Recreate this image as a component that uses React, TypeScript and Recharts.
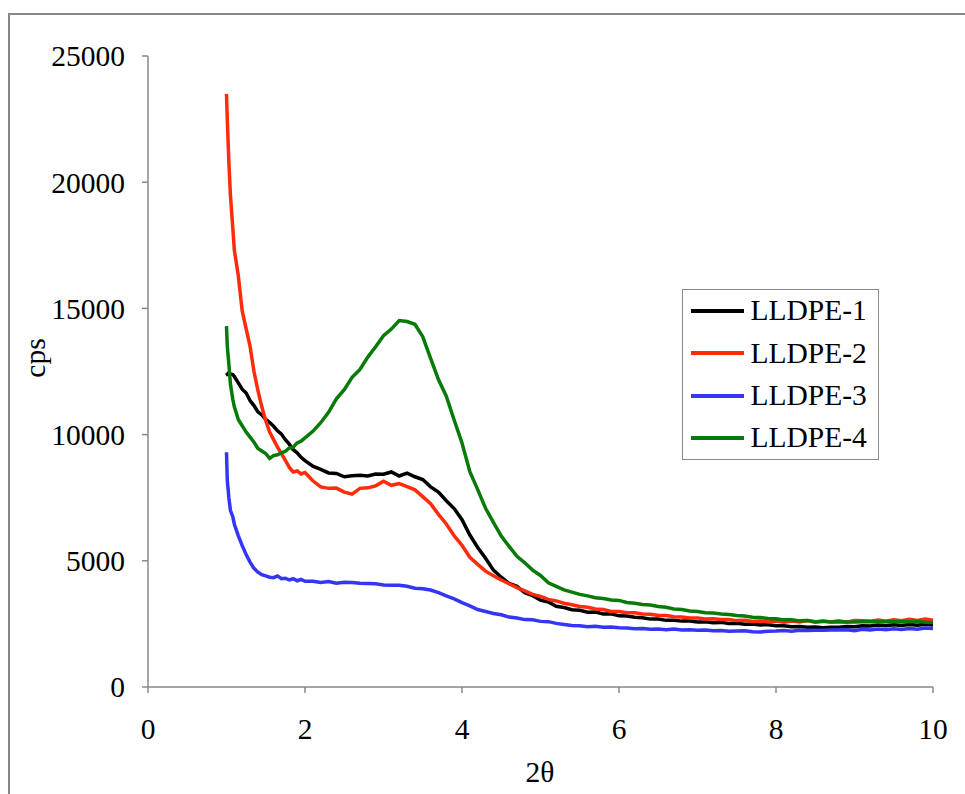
import { LineChart, Line, XAxis, YAxis } from "recharts"

// 2θ positions (finer steps where the curves fall steeply)
const xs = [
  1.0, 1.01, 1.03, 1.05, 1.08, 1.1, 1.15, 1.2, 1.25, 1.3, 1.35, 1.4, 1.45, 1.5, 1.55, 1.6, 1.65, 1.7, 1.75, 1.8, 1.85, 1.9, 1.95, 2.0,
  2.1, 2.2, 2.3, 2.4, 2.5, 2.6, 2.7, 2.8, 2.9, 3.0,
  3.1, 3.2, 3.3, 3.4, 3.5, 3.6, 3.7, 3.8, 3.9, 4.0,
  4.1, 4.2, 4.3, 4.4, 4.5, 4.6, 4.7, 4.8, 4.9, 5.0,
  5.1, 5.2, 5.3, 5.4, 5.5, 5.6, 5.7, 5.8, 5.9, 6.0,
  6.1, 6.2, 6.3, 6.4, 6.5, 6.6, 6.7, 6.8, 6.9, 7.0,
  7.1, 7.2, 7.3, 7.4, 7.5, 7.6, 7.7, 7.8, 7.9, 8.0,
  8.1, 8.2, 8.3, 8.4, 8.5, 8.6, 8.7, 8.8, 8.9, 9.0,
  9.1, 9.2, 9.3, 9.4, 9.5, 9.6, 9.7, 9.8, 9.9, 10.0,
]

const lldpe1 = [
  12450, 12400, 12450, 12400, 12380, 12300, 12050, 11800, 11650, 11350, 11150, 10900, 10780, 10600, 10480, 10330, 10150, 10020, 9800, 9620, 9400, 9280, 9100, 8970,
  8750, 8620, 8480, 8460, 8330, 8370, 8390, 8360, 8440, 8430,
  8520, 8360, 8470, 8330, 8220, 7930, 7720, 7380, 7070, 6630,
  6020, 5530, 5100, 4630, 4350, 4100, 3990, 3740, 3620, 3440,
  3370, 3200, 3150, 3060, 3040, 2960, 2970, 2890, 2900, 2820,
  2810, 2760, 2740, 2690, 2690, 2640, 2640, 2610, 2610, 2580,
  2580, 2550, 2560, 2520, 2530, 2490, 2500, 2460, 2470, 2430,
  2430, 2390, 2400, 2370, 2380, 2350, 2370, 2370, 2400, 2390,
  2430, 2420, 2460, 2430, 2470, 2440, 2480, 2450, 2490, 2460,
]

const lldpe2 = [
  23500, 22500, 20800, 19500, 18200, 17300, 16300, 14900, 14200, 13500, 12500, 11750, 11100, 10550, 10100, 9800, 9500, 9250, 8980, 8700, 8520, 8560, 8440, 8500,
  8170, 7930, 7870, 7880, 7720, 7640, 7870, 7890, 7970, 8150,
  7990, 8060, 7940, 7810, 7540, 7260, 6840, 6460, 5990, 5610,
  5140, 4860, 4590, 4410, 4240, 4090, 3940, 3810, 3670, 3590,
  3470, 3410, 3320, 3260, 3190, 3160, 3090, 3070, 2990, 2990,
  2940, 2940, 2890, 2880, 2830, 2830, 2780, 2770, 2730, 2730,
  2690, 2700, 2670, 2670, 2630, 2640, 2600, 2610, 2580, 2610,
  2570, 2610, 2580, 2630, 2570, 2610, 2580, 2620, 2570, 2630,
  2620, 2610, 2650, 2610, 2660, 2630, 2680, 2640, 2690, 2650,
]

const lldpe3 = [
  9300, 8200, 7500, 7000, 6750, 6450, 6000, 5600, 5250, 4950, 4700, 4550, 4450, 4400, 4350, 4330, 4400, 4290, 4310, 4240, 4290, 4210, 4260, 4190,
  4190, 4140, 4180, 4110, 4150, 4140, 4110, 4100, 4090, 4040,
  4030, 4030, 3990, 3910, 3890, 3840, 3740, 3610, 3490, 3340,
  3210, 3070, 2990, 2910, 2860, 2770, 2730, 2670, 2660, 2600,
  2590, 2520, 2480, 2440, 2430, 2390, 2410, 2370, 2380, 2350,
  2340, 2310, 2320, 2290, 2300, 2270, 2300, 2260, 2270, 2250,
  2260, 2230, 2240, 2210, 2220, 2230, 2190, 2180, 2210, 2220,
  2240, 2210, 2250, 2240, 2250, 2250, 2260, 2260, 2270, 2230,
  2290, 2260, 2300, 2270, 2310, 2280, 2320, 2290, 2340, 2320,
]

const lldpe4 = [
  14300, 13500, 12800, 12000, 11400, 11100, 10600, 10350, 10100, 9900, 9700, 9450, 9350, 9250, 9060, 9170, 9200, 9280, 9340, 9470, 9500, 9670, 9740, 9870,
  10130, 10470, 10880, 11420, 11780, 12270, 12580, 13070, 13480, 13920,
  14180, 14520, 14480, 14370, 13880, 13020, 12180, 11520, 10580, 9670,
  8530, 7820, 7080, 6520, 5980, 5570, 5180, 4920, 4630, 4420,
  4130, 3990, 3850, 3760, 3670, 3610, 3540, 3510, 3450, 3430,
  3350, 3320, 3270, 3250, 3190, 3160, 3090, 3070, 3010, 2990,
  2940, 2930, 2890, 2870, 2830, 2810, 2760, 2750, 2710, 2700,
  2660, 2660, 2620, 2630, 2590, 2600, 2580, 2590, 2580, 2580,
  2590, 2590, 2590, 2600, 2590, 2590, 2590, 2600, 2570, 2560,
]

const seriesNames = ["LLDPE-1", "LLDPE-2", "LLDPE-3", "LLDPE-4"]
const xTicks = [0, 2, 4, 6, 8, 10]
const yTicks = [0, 5000, 10000, 15000, 20000, 25000]

const colors = ["#000000", "#ff2b0a", "#3535f5", "#077a07"]
const font = "'Liberation Serif', 'Times New Roman', serif"
const axisGray = "#888888"
const fontSize = 29.5

const data = xs.map((x, i) => ({
  x,
  l1: lldpe1[i],
  l2: lldpe2[i],
  l3: lldpe3[i],
  l4: lldpe4[i],
}))

function LegendBox() {
  return (
    <div
      style={{
        position: "absolute",
        left: 682,
        top: 289,
        width: 197,
        height: 171,
        boxSizing: "border-box",
        border: `1.5px solid ${axisGray}`,
        background: "#fff",
      }}
    >
      {seriesNames.map((n, i) => (
        <div key={n} style={{ display: "flex", alignItems: "center", height: 42.3 }}>
          <span style={{ marginLeft: 7.5, width: 53, height: 4, background: colors[i] }} />
          <span style={{ marginLeft: 7, fontFamily: font, fontSize, color: "#000", lineHeight: 1 }}>{n}</span>
        </div>
      ))}
    </div>
  )
}

export default function App() {
  const keys = ["l1", "l2", "l3", "l4"]
  return (
    <div style={{ position: "absolute", left: 0, top: 0, width: 965, height: 794, overflow: "hidden", background: "#fff" }}>
      <div
        style={{
          position: "absolute",
          left: 8,
          top: 13,
          width: 1200,
          height: 1200,
          borderTop: `2px solid ${axisGray}`,
          borderLeft: `2px solid ${axisGray}`,
        }}
      />
      <LineChart
        width={965}
        height={794}
        data={data}
        margin={{ top: 56, right: 32, bottom: 7, left: 88 }}
        style={{ position: "absolute", left: 0, top: 0 }}
      >
        <XAxis
          dataKey="x"
          type="number"
          domain={[0, 10]}
          ticks={xTicks}
          height={100}
          stroke={axisGray}
          strokeWidth={1.5}
          tickSize={6}
          tickMargin={25}
          tick={{ fontFamily: font, fontSize, fill: "#000" }}
          label={() => (
            <text x={540} y={772} textAnchor="middle" dominantBaseline="central" fontFamily={font} fontSize={fontSize} fill="#000">
              2θ
            </text>
          )}
        />
        <YAxis
          type="number"
          domain={[0, 25000]}
          ticks={yTicks}
          width={60}
          stroke={axisGray}
          strokeWidth={1.5}
          tickSize={6}
          tickMargin={17}
          tick={{ fontFamily: font, fontSize, fill: "#000" }}
          label={() => (
            <text
              x={35}
              y={358}
              transform="rotate(-90 35 358)"
              textAnchor="middle"
              dominantBaseline="central"
              fontFamily={font}
              fontSize={fontSize}
              fill="#000"
            >
              cps
            </text>
          )}
        />
        {keys.map((k, i) => (
          <Line
            key={k}
            dataKey={k}
            name={seriesNames[i]}
            type="linear"
            stroke={colors[i]}
            strokeWidth={3.5}
            dot={false}
            isAnimationActive={false}
          />
        ))}
      </LineChart>
      <LegendBox />
    </div>
  )
}
